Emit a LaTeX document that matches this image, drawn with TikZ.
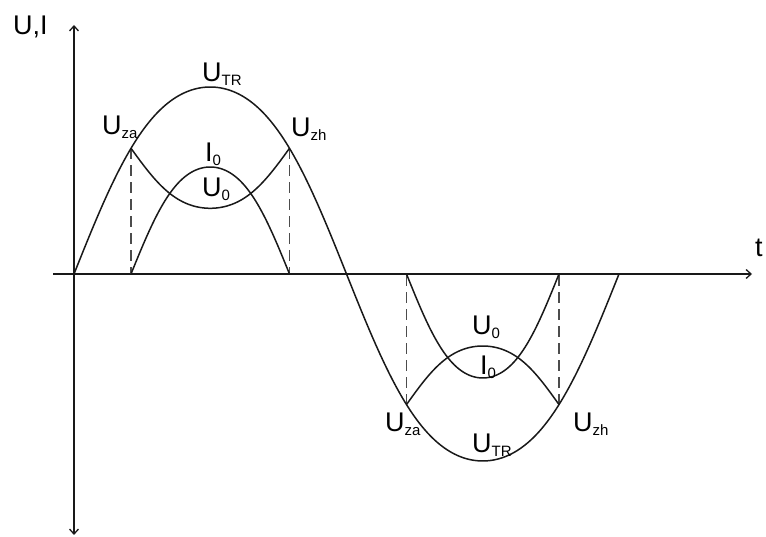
\documentclass[tikz,border=0pt]{standalone}
\usepackage{fontspec}
\setmainfont{Liberation Sans}
\usetikzlibrary{arrows.meta}
\newcommand{\lbl}[2]{#1\raisebox{-4pt}{\fontsize{15}{15}\selectfont #2}}
\begin{document}
\begin{tikzpicture}[x=1pt,y=1pt,
  declare function={wav(\t)=sin(\t)*(1+0.16*cos(\t)*cos(\t));},
  curve/.style={line width=1.5pt,black!90},
  axis/.style={line width=1.3pt,black!90,-{Straight Barb[length=5pt,width=9pt]}},
  guide/.style={line width=1.5pt,black!70,dash pattern=on 11pt off 6pt},
  txt/.style={inner sep=0pt,anchor=base west,font=\fontsize{27}{30}\selectfont}]
\useasboundingbox (-74,-263) rectangle (692,274);
% axes
\coordinate (O) at (0,0);
\coordinate (ytop) at (0,249);
\coordinate (ybot) at (0,-261);
\coordinate (xleft) at (-21,0);
\coordinate (xright) at (678,0);
\draw[axis] (O) -- (ytop);
\draw[axis] (O) -- (ybot);
\draw[line width=1.3pt,black!90] (xleft) -- (O);
\draw[axis] (O) -- (xright);
% ignition points
\coordinate (za1) at (57,125.7);
\coordinate (zh1) at (215.5,125.7);
\coordinate (za2) at (332.5,-130.6);
\coordinate (zh2) at (485,-130.6);
\coordinate (za1b) at (57,0);
\coordinate (zh1b) at (215.5,0);
\coordinate (za2b) at (332.5,0);
\coordinate (zh2b) at (485,0);
\draw[guide] (za1) -- (za1b);
\draw[guide] (zh1) -- (zh1b);
\draw[guide] (za2) -- (za2b);
\draw[guide] (zh2) -- (zh2b);
% U_TR
\draw[curve] plot[domain=0:545,samples=220,variable=\x] ({\x},{187*wav(\x*0.66055)});
% I0 and U0, positive half
\draw[curve] plot[domain=57:215.5,samples=90,variable=\x] ({\x},{107*wav((\x-57)*1.135647)});
\draw[curve] plot[domain=57:215.5,samples=90,variable=\x] ({\x},{125.7-60*wav((\x-57)*1.135647)});
% I0 and U0, negative half
\draw[curve] plot[domain=332.5:485,samples=90,variable=\x] ({\x},{-104*wav((\x-332.5)*1.180328)});
\draw[curve] plot[domain=332.5:485,samples=90,variable=\x] ({\x},{-130.6+58.6*wav((\x-332.5)*1.180328)});
% labels
\node[txt] (lUI) at (-61,239) {U,I};
\node[txt] (lt) at (681,17) {t};
\node[txt] (lTR1) at (128,192) {\lbl{U}{TR}};
\node[txt] (lza1) at (28,139) {\lbl{U}{za}};
\node[txt] (lzh1) at (217,137) {\lbl{U}{zh}};
\node[txt] (lI1) at (131,112) {\lbl{I}{0}};
\node[txt] (lU1) at (128,77) {\lbl{U}{0}};
\node[txt] (lU2) at (398,-61) {\lbl{U}{0}};
\node[txt] (lI2) at (406,-101) {\lbl{I}{0}};
\node[txt] (lza2) at (311,-158) {\lbl{U}{za}};
\node[txt] (lzh2) at (499,-158) {\lbl{U}{zh}};
\node[txt] (lTR2) at (398,-179) {\lbl{U}{TR}};
\end{tikzpicture}
\end{document}
